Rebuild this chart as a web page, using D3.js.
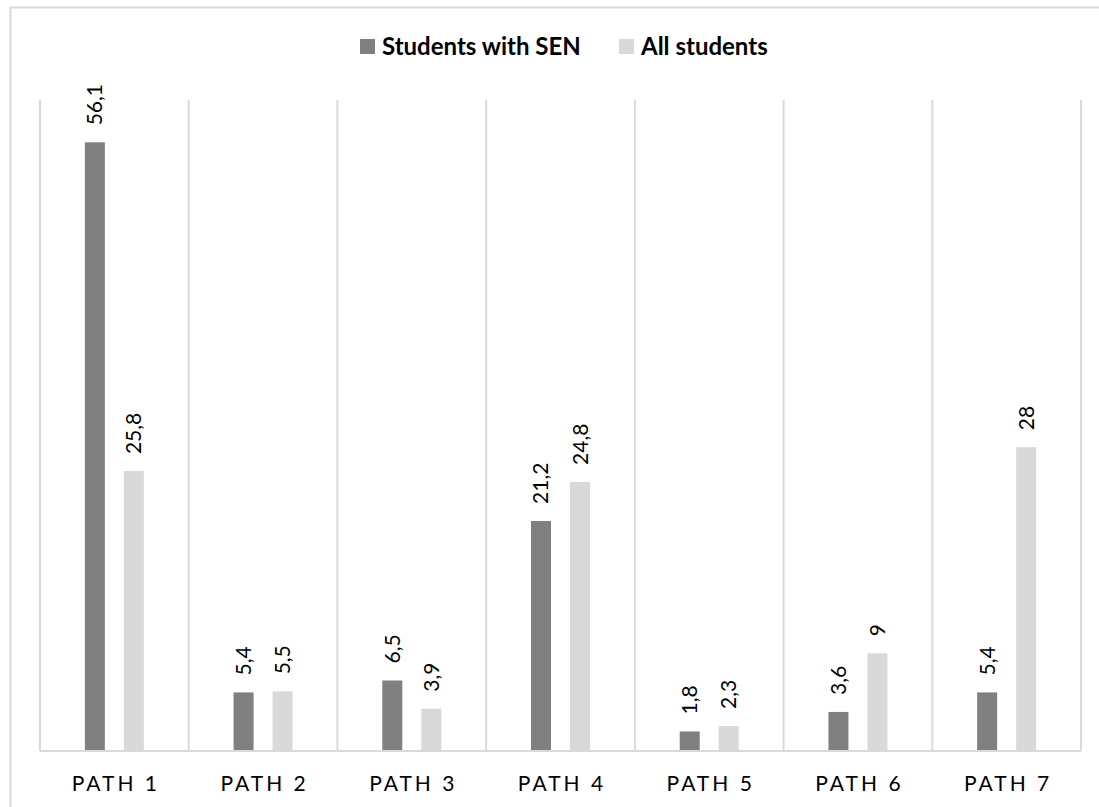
<!DOCTYPE html>
<html>
<head>
<meta charset="utf-8">
<script src="https://cdn.jsdelivr.net/npm/d3@7"></script>
<style>
  body { margin: 0; background: #fff; }
  text { font-family: Lato, "Open Sans", sans-serif; fill: #000; }
</style>
</head>
<body>
<svg id="chart" width="1099" height="807"></svg>
<script>
let width = 1099;
let height = 807;

let paths = ["PATH 1", "PATH 2", "PATH 3", "PATH 4", "PATH 5", "PATH 6", "PATH 7"];
let seriesNames = ["Students with SEN", "All students"];
let senValues = [56.1, 5.4, 6.5, 21.2, 1.8, 3.6, 5.4];
let allValues = [25.8, 5.5, 3.9, 24.8, 2.3, 9, 28];
let colors = ["#808080", "#d9d9d9"];

let data = paths.map((p, i) => ({ path: p, values: [senValues[i], allValues[i]] }));

let margin = { top: 100, right: 18, bottom: 56, left: 40 };

let svg = d3.select("#chart");

// outer frame of the chart area
svg.append("path")
    .attr("d", `M10.5,${height} V7.5 H${width}`)
    .attr("fill", "none")
    .attr("stroke", "#d9d9d9")
    .attr("stroke-width", 2);

let x0 = d3.scaleBand()
    .domain(paths)
    .range([margin.left, width - margin.right])
    .padding(0);

let x1 = d3.scaleBand()
    .domain(seriesNames)
    .range([0, x0.bandwidth()])
    .paddingInner(0.487)
    .paddingOuter(1.15);

let y = d3.scaleLinear()
    .domain([0, 60])
    .range([height - margin.bottom, margin.top]);

let color = d3.scaleOrdinal().domain(seriesNames).range(colors);

// vertical separators between categories
let seps = paths.map(p => x0(p)).concat([x0.range()[1]]);
svg.append("g")
    .selectAll("line")
    .data(seps)
    .join("line")
    .attr("x1", d => d)
    .attr("x2", d => d)
    .attr("y1", y(60))
    .attr("y2", y(0))
    .attr("stroke", "#d9d9d9")
    .attr("stroke-width", 2);

let groups = svg.append("g")
    .selectAll("g")
    .data(data)
    .join("g")
    .attr("transform", d => `translate(${x0(d.path)},0)`);

groups.selectAll("rect")
    .data(d => d.values.map((v, i) => ({ key: seriesNames[i], value: v })))
    .join("rect")
    .attr("x", d => x1(d.key))
    .attr("width", x1.bandwidth())
    .attr("y", d => y(d.value))
    .attr("height", d => y(0) - y(d.value))
    .attr("fill", d => color(d.key));

groups.selectAll("text")
    .data(d => d.values.map((v, i) => ({ key: seriesNames[i], value: v })))
    .join("text")
    .attr("transform", d => `translate(${x1(d.key) + x1.bandwidth() / 2 + 7.5},${y(d.value) - 17}) rotate(-90)`)
    .attr("font-size", "21px")
    .text(d => String(d.value).replace(".", ","));

// baseline
svg.append("line")
    .attr("x1", margin.left)
    .attr("x2", width - margin.right)
    .attr("y1", y(0))
    .attr("y2", y(0))
    .attr("stroke", "#d9d9d9")
    .attr("stroke-width", 2);

let xAxis = svg.append("g")
    .attr("class", "x axis")
    .attr("transform", `translate(0,${y(0)})`)
    .call(d3.axisBottom(x0).tickSize(0).tickPadding(25))
    .call(g => g.select(".domain").remove());

xAxis.selectAll("text")
    .attr("font-size", "21px")
    .attr("font-family", "Lato, sans-serif")
    .attr("letter-spacing", "3px")
    .attr("dx", "1.5px")
    .attr("fill", "#000");

// legend
let legend = svg.append("g").attr("transform", "translate(360,39)");
let legendX = [0, 259];
seriesNames.forEach((s, i) => {
  let g = legend.append("g").attr("transform", `translate(${legendX[i]},0)`);
  g.append("rect")
    .attr("width", 15)
    .attr("height", 15)
    .attr("fill", color(s));
  g.append("text")
    .attr("x", 22)
    .attr("y", 16)
    .attr("font-size", "24px")
    .attr("font-weight", "bold")
    .text(s);
});
</script>
</body>
</html>
